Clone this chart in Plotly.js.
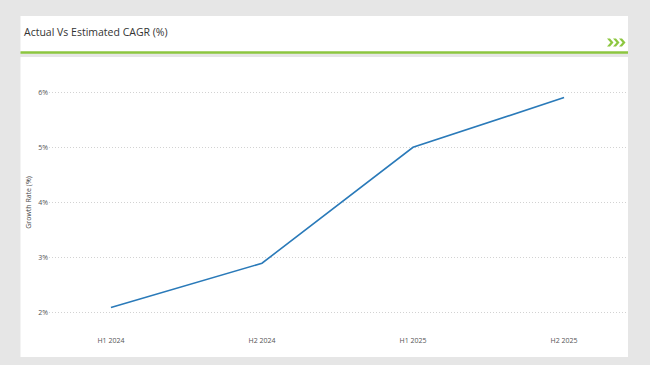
<!DOCTYPE html>
<html>
<head>
<meta charset="utf-8">
<script src="https://cdn.plot.ly/plotly-3.0.1.min.js"></script>
<style>html,body{margin:0;padding:0;background:#e6e6e6;}#chart{width:650px;height:365px;}</style>
</head>
<body>
<div id="chart"></div>
<script>
const periods = ["H1 2024", "H2 2024", "H1 2025", "H2 2025"];
const growthRate = [2.1, 2.9, 5.0, 5.9];
const yTicks = [2, 3, 4, 5, 6];
const yTickText = ["2%", "3%", "4%", "5%", "6%"];

const W = 650, H = 365;
const L = 49, R = 24, T = 70, B = 30;
const pw = W - L - R, ph = H - T - B;
const px = x => (x - L) / pw;
const py = y => (H - B - y) / ph;

const shapes = [
  {type:'rect', xref:'paper', yref:'paper', x0:px(20.5), x1:px(628), y0:py(16), y1:py(52), fillcolor:'#ffffff', line:{width:0}, layer:'below'},
  {type:'rect', xref:'paper', yref:'paper', x0:px(20.5), x1:px(628), y0:py(57), y1:py(357), fillcolor:'#ffffff', line:{width:0}, layer:'below'},
  {type:'line', xref:'paper', yref:'paper', x0:px(20.5), x1:px(628), y0:py(52.5), y1:py(52.5), line:{color:'#8cc63f', width:2.5}}
];
// chevrons
[607, 613, 619].forEach(cx => {
  const pts = [[cx,38.5],[cx+3,38.5],[cx+6.5,42.5],[cx+3,46.5],[cx,46.5],[cx+3.5,42.5]];
  const d = 'M ' + pts.map(p => px(p[0]) + ',' + py(p[1])).join(' L ') + ' Z';
  shapes.push({type:'path', xref:'paper', yref:'paper', path:d, fillcolor:'#8cc63f', line:{width:0}});
});

const data = [{
  x: periods,
  y: growthRate,
  type: 'scatter',
  mode: 'lines',
  line: {color:'#2a7ab9', width:1.6},
  hoverinfo: 'skip'
}];

const layout = {
  width: W, height: H,
  margin: {l:L, r:R, t:T, b:B, pad:0},
  paper_bgcolor: '#e6e6e6',
  plot_bgcolor: '#ffffff',
  showlegend: false,
  font: {family:'Open Sans, sans-serif', color:'#444'},
  title: {text:'Actual Vs Estimated CAGR (%)', xref:'container', yref:'container', x:24/W, xanchor:'left', y:1-32/H, yanchor:'middle', font:{size:10.5, color:'#333', family:'Open Sans, sans-serif'}},
  xaxis: {type:'category', range:[-0.41, 3.41], showgrid:false, zeroline:false, showline:false, ticks:'', tickfont:{size:7, color:'#555'}, fixedrange:true},
  yaxis: {range:[1.6, 6.4], tickmode:'array', tickvals:yTicks, ticktext:yTickText, showgrid:true, gridcolor:'#d2d2d2', griddash:'1px,2px', gridwidth:1, zeroline:false, showline:false, ticks:'', tickfont:{size:7, color:'#555'},
          title:{text:'Growth Rate (%)', font:{size:7, color:'#444'}, standoff:5}, fixedrange:true},
  shapes: shapes
};
Plotly.newPlot('chart', data, layout, {displayModeBar:false, staticPlot:true});
</script>
</body>
</html>
